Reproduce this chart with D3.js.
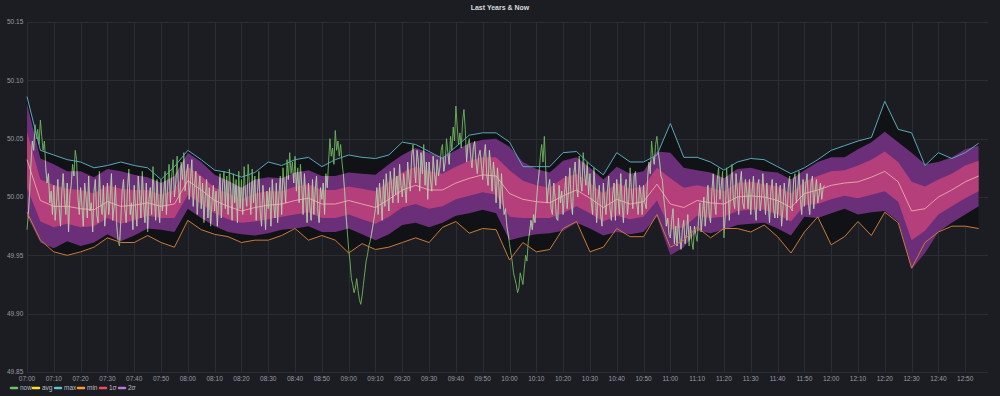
<!DOCTYPE html>
<html>
<head>
<meta charset="utf-8">
<style>
  html, body { margin: 0; padding: 0; background: #1b1d22; }
  svg { display: block; }
  text { font-family: "Liberation Sans", "DejaVu Sans", sans-serif; }
</style>
</head>
<body>
<svg id="chart" width="1000" height="396"></svg>
<script src="https://cdnjs.cloudflare.com/ajax/libs/d3/7.8.5/d3.min.js"></script>
<script>
// history stats, one point every 5 minutes from 07:00
const avgValues = [50.032, 49.997, 49.992, 49.992, 49.990, 49.989, 49.996, 49.992, 49.993, 49.995,
  49.992, 49.994, 50.014, 50.006, 49.997, 49.992, 49.988, 49.991, 49.993, 49.994,
  49.997, 49.999, 49.994, 49.994, 49.997, 49.994, 49.991, 49.998, 50.006, 50.010,
  50.006, 50.006, 50.012, 50.016, 50.019, 50.018, 50.003, 49.998, 49.996, 49.995,
  50.001, 50.006, 49.999, 49.991, 49.998, 49.994, 49.996, 50.011, 49.994, 49.991,
  49.997, 49.995, 49.994, 50.000, 50.001, 50.000, 49.997, 49.991, 50.003, 50.006,
  50.010, 50.012, 50.013, 50.017, 50.022, 50.013, 49.988, 49.990, 50.000, 50.006,
  50.013, 50.018];
const sdValues = [0.024, 0.018, 0.018, 0.015, 0.016, 0.014, 0.014, 0.015, 0.013, 0.011,
  0.010, 0.012, 0.012, 0.012, 0.011, 0.011, 0.010, 0.012, 0.012, 0.011,
  0.012, 0.012, 0.012, 0.012, 0.012, 0.013, 0.014, 0.015, 0.015, 0.016,
  0.016, 0.014, 0.014, 0.015, 0.015, 0.016, 0.020, 0.016, 0.014, 0.013,
  0.015, 0.014, 0.013, 0.012, 0.014, 0.013, 0.013, 0.014, 0.022, 0.017,
  0.013, 0.013, 0.011, 0.012, 0.012, 0.011, 0.012, 0.012, 0.010, 0.012,
  0.012, 0.011, 0.014, 0.015, 0.017, 0.017, 0.025, 0.019, 0.015, 0.014,
  0.014, 0.013];
const maxValues = [50.086, 50.040, 50.036, 50.032, 50.030, 50.025, 50.027, 50.030, 50.027, 50.025,
  50.015, 50.026, 50.040, 50.032, 50.023, 50.021, 50.017, 50.021, 50.030, 50.027,
  50.032, 50.034, 50.026, 50.032, 50.036, 50.034, 50.033, 50.036, 50.047, 50.045,
  50.039, 50.033, 50.043, 50.053, 50.055, 50.055, 50.047, 50.026, 50.026, 50.026,
  50.038, 50.039, 50.028, 50.019, 50.038, 50.030, 50.030, 50.036, 50.063, 50.034,
  50.034, 50.030, 50.023, 50.030, 50.033, 50.032, 50.026, 50.020, 50.025, 50.032,
  50.040, 50.044, 50.048, 50.051, 50.082, 50.058, 50.055, 50.027, 50.038, 50.033,
  50.038, 50.046];
const minValues = [49.987, 49.963, 49.953, 49.950, 49.953, 49.957, 49.965, 49.961, 49.961, 49.967,
  49.961, 49.957, 49.980, 49.972, 49.968, 49.966, 49.961, 49.963, 49.963, 49.967,
  49.973, 49.963, 49.967, 49.963, 49.952, 49.960, 49.955, 49.957, 49.961, 49.965,
  49.961, 49.974, 49.979, 49.969, 49.973, 49.972, 49.946, 49.961, 49.953, 49.955,
  49.973, 49.979, 49.953, 49.957, 49.973, 49.966, 49.966, 49.985, 49.957, 49.963,
  49.974, 49.965, 49.973, 49.973, 49.970, 49.976, 49.966, 49.952, 49.970, 49.983,
  49.959, 49.966, 49.979, 49.967, 49.987, 49.978, 49.939, 49.961, 49.970, 49.975,
  49.975, 49.973];

// today, one point every 30 seconds from 07:00
const nowValues = [
  49.972, 49.985, 50.005, 50.030, 50.048, 50.040, 50.062, 50.050, 50.058, 50.045, 50.066, 50.052, 50.040, 50.048, 50.025, 50.012, 50.020, 49.995, 50.005, 49.985,
  50.010, 49.980, 49.995, 50.015, 49.990, 49.975, 50.005, 50.020, 49.998, 49.985, 50.012, 49.970, 50.002, 50.010, 50.028, 50.018, 50.040, 50.032, 50.000, 49.985,
  50.008, 49.992, 49.975, 50.012, 50.000, 49.982, 50.018, 49.988, 49.995, 49.970, 50.005, 50.015, 49.985, 49.978, 50.022, 49.995, 49.985, 50.010, 49.975, 49.990,
  50.012, 49.985, 49.998, 50.020, 49.980, 49.992, 50.010, 49.975, 49.962, 49.958, 49.980, 50.005, 50.015, 49.990, 49.978, 50.008, 50.024, 49.985, 49.995, 49.972,
  50.010, 49.990, 49.975, 50.018, 50.002, 49.982, 50.022, 49.995, 49.978, 50.012, 49.970, 49.998, 50.008, 49.985, 50.026, 50.000, 49.980, 50.015, 49.992, 49.978,
  50.015, 49.988, 50.002, 50.022, 49.985, 50.010, 50.028, 49.995, 50.018, 50.032, 50.000, 50.012, 50.035, 50.008, 49.995, 50.030, 50.015, 50.038, 50.005, 50.020,
  50.028, 49.998, 50.015, 50.032, 49.992, 50.010, 50.022, 49.985, 50.005, 50.018, 49.990, 50.012, 49.978, 50.000, 50.015, 49.982, 50.008, 49.975, 49.995, 50.010,
  49.988, 50.005, 49.975, 49.998, 50.020, 49.982, 50.012, 50.022, 49.990, 50.018, 49.985, 50.024, 50.005, 49.980, 50.020, 49.995, 50.015, 49.978, 50.022, 49.990,
  50.015, 49.985, 50.026, 50.002, 49.992, 50.028, 50.010, 49.985, 50.024, 49.995, 50.018, 49.980, 50.005, 50.022, 49.988, 49.975, 50.010, 49.995, 49.972, 50.005,
  49.990, 50.008, 49.975, 50.015, 49.995, 49.982, 50.012, 49.978, 50.002, 50.018, 49.985, 50.025, 50.010, 49.995, 50.032, 50.015, 50.038, 50.020, 50.030, 50.012,
  50.035, 50.005, 50.025, 49.995, 50.028, 50.010, 49.985, 50.020, 50.000, 49.978, 50.012, 49.992, 49.980, 50.015, 49.985, 50.005, 50.018, 49.988, 49.978, 50.008,
  49.998, 50.012, 49.985, 50.020, 50.008, 50.030, 50.050, 50.035, 50.042, 50.028, 50.057, 50.040, 50.048, 50.035, 50.045, 50.030, 50.020, 50.005, 49.985, 49.970,
  49.955, 49.945, 49.930, 49.925, 49.918, 49.922, 49.930, 49.920, 49.912, 49.908, 49.915, 49.925, 49.935, 49.945, 49.950, 49.958, 49.962, 49.968, 49.975, 49.982,
  49.990, 50.008, 49.985, 50.012, 49.998, 49.980, 50.015, 49.992, 50.020, 50.005, 49.988, 50.022, 50.010, 49.995, 50.025, 50.002, 50.018, 49.995, 50.028, 50.010,
  50.000, 50.020, 50.008, 49.995, 50.030, 50.015, 50.005, 50.035, 50.045, 50.025, 50.012, 50.040, 50.030, 50.005, 50.038, 50.020, 50.045, 50.010, 50.030, 49.998,
  50.030, 50.015, 50.005, 50.035, 50.020, 50.010, 50.032, 50.018, 50.025, 50.040, 50.045, 50.022, 50.030, 50.050, 50.038, 50.028, 50.052, 50.040, 50.060, 50.048,
  50.078, 50.060, 50.045, 50.055, 50.042, 50.065, 50.075, 50.058, 50.030, 50.045, 50.050, 50.035, 50.025, 50.042, 50.048, 50.030, 50.020, 50.035, 50.040, 50.028,
  50.015, 50.035, 50.045, 50.020, 50.010, 50.040, 50.025, 50.005, 50.030, 50.018, 49.995, 50.025, 50.010, 49.990, 50.020, 49.998, 49.985, 49.990, 49.975, 49.968,
  49.960, 49.952, 49.945, 49.935, 49.930, 49.925, 49.918, 49.922, 49.935, 49.930, 49.925, 49.938, 49.950, 49.945, 49.962, 49.970, 49.980, 49.972, 49.985, 49.978,
  49.995, 50.010, 50.020, 50.035, 50.045, 50.030, 50.052, 50.025, 49.995, 50.008, 50.015, 49.990, 49.985, 50.012, 50.000, 49.982, 49.980, 50.010, 49.995, 50.005,
  49.985, 50.002, 50.018, 49.990, 50.005, 50.025, 49.995, 49.985, 50.020, 50.030, 50.008, 50.000, 50.035, 50.015, 50.005, 50.038, 50.020, 50.010, 50.030, 50.002,
  50.020, 49.995, 49.985, 50.025, 50.005, 49.978, 49.998, 50.010, 49.985, 49.975, 50.012, 49.995, 49.985, 50.005, 50.018, 49.990, 49.980, 50.002, 50.012, 49.980,
  50.015, 50.000, 49.985, 50.020, 49.995, 49.978, 50.008, 50.015, 49.985, 49.998, 50.025, 50.005, 49.990, 50.018, 50.022, 49.995, 49.985, 50.010, 50.002, 49.985,
  50.010, 49.995, 49.990, 50.015, 50.030, 50.020, 50.048, 50.035, 50.028, 50.045, 50.052, 50.038, 50.030, 50.018, 50.015, 50.000, 49.990, 49.975, 49.982, 49.968,
  49.965, 49.980, 49.990, 49.960, 49.975, 49.958, 49.982, 49.965, 49.955, 49.972, 49.980, 49.960, 49.968, 49.985, 49.958, 49.975, 49.962, 49.955, 49.975, 49.968,
  49.962, 49.980, 49.995, 49.970, 49.985, 50.000, 49.975, 49.990, 50.010, 49.985, 49.978, 50.005, 50.020, 49.995, 49.985, 50.015, 50.025, 49.998, 50.010, 50.022,
  49.965, 49.985, 50.025, 50.005, 49.980, 50.010, 50.028, 49.998, 49.990, 50.020, 50.005, 49.985, 50.012, 50.022, 49.995, 49.990, 50.015, 50.005, 49.990, 50.015,
  49.985, 50.005, 50.018, 49.992, 49.980, 50.010, 50.015, 49.988, 49.998, 50.020, 50.002, 49.985, 50.012, 49.995, 49.978, 50.005, 50.015, 49.990, 49.982, 50.012,
  49.982, 50.000, 50.010, 49.975, 49.990, 50.012, 49.998, 49.980, 50.008, 50.018, 49.990, 49.988, 50.015, 50.020, 49.995, 50.005, 50.022, 49.998, 49.985, 50.015,
  49.992, 50.010, 50.020, 49.995, 49.985, 50.012, 50.018, 49.990, 50.005, 50.015, 49.995, 50.002, 50.012, 49.998, 50.008, 50.010
];

const yTicks = [49.85, 49.90, 49.95, 50.00, 50.05, 50.10, 50.15];
const xTickLabels = ['07:00','07:10','07:20','07:30','07:40','07:50','08:00','08:10','08:20','08:30',
  '08:40','08:50','09:00','09:10','09:20','09:30','09:40','09:50','10:00','10:10','10:20','10:30',
  '10:40','10:50','11:00','11:10','11:20','11:30','11:40','11:50','12:00','12:10','12:20','12:30',
  '12:40','12:50'];
const legendNames = ['now', 'avg', 'max', 'min', '1σ', '2σ'];
const legendColors = ['#73bf69', '#fade2a', '#5fc2c9', '#ff9830', '#f2495c', '#b877d9'];

const svg = d3.select('#chart');
const day = '2020-01-01T';
const t = s => new Date(day + s + ':00');
const t0 = t('07:00');
const addSec = s => new Date(t0.getTime() + s * 1000);

const x = d3.scaleTime().domain([t0, addSec(358.5 * 60)]).range([27, 988]);
const y = d3.scaleLinear().domain([49.85, 50.15]).range([372, 22]);

svg.append('rect').attr('width', 1000).attr('height', 396).attr('fill', '#1b1d22');

svg.append('text')
  .attr('x', 500).attr('y', 10)
  .attr('text-anchor', 'middle')
  .attr('font-size', 7).attr('font-weight', 'bold')
  .attr('fill', '#d8d9da')
  .text('Last Years & Now');

// grid
const grid = svg.append('g').attr('stroke', '#2b2d33').attr('stroke-width', 1);
grid.selectAll('.h').data(yTicks).join('line')
  .attr('x1', 27).attr('x2', 988)
  .attr('y1', d => Math.round(y(d)) + 0.5).attr('y2', d => Math.round(y(d)) + 0.5);
grid.selectAll('.v').data(xTickLabels).join('line')
  .attr('y1', 22).attr('y2', 372)
  .attr('x1', d => Math.round(x(t(d))) + 0.5).attr('x2', d => Math.round(x(t(d))) + 0.5);

svg.append('g').selectAll('text').data(yTicks).join('text')
  .attr('x', 7).attr('y', d => y(d)).attr('dy', '0.35em')
  .attr('font-size', 6.5).attr('fill', '#9a9ca4')
  .text(d => d.toFixed(2));

svg.append('g').selectAll('text').data(xTickLabels).join('text')
  .attr('x', d => x(t(d))).attr('y', 379).attr('dy', '0.35em')
  .attr('text-anchor', 'middle')
  .attr('font-size', 6.5).attr('fill', '#9a9ca4')
  .text(d => d);

// stats rows
const stats = avgValues.map((a, i) => ({
  time: addSec(i * 300), avg: a, sd: sdValues[i], max: maxValues[i], min: minValues[i]
}));
const now = nowValues.map((v, i) => ({ time: addSec(i * 30), v }));

const band = (lo, hi) => d3.area().x(d => x(d.time)).y0(d => y(lo(d))).y1(d => y(hi(d)));
const area2 = band(d => d.avg - 2 * d.sd, d => d.avg + 2 * d.sd);

svg.append('path').datum(stats).attr('fill', '#111216')
  .attr('d', band(d => d.min, d => d.max));
svg.append('path').datum(stats).attr('fill', '#6b2f79').attr('d', area2);
svg.append('path').datum(stats).attr('fill', '#b53f7a')
  .attr('d', band(d => d.avg - d.sd, d => d.avg + d.sd));

svg.append('clipPath').attr('id', 'inband')
  .append('path').datum(stats).attr('d', area2);

const nowLine = d3.line().x(d => x(d.time)).y(d => y(d.v));
svg.append('path').datum(now).attr('fill', 'none')
  .attr('stroke', '#6fb55f').attr('stroke-width', 0.9).attr('d', nowLine);
svg.append('path').datum(now).attr('fill', 'none')
  .attr('clip-path', 'url(#inband)')
  .attr('stroke', '#e8c3dc').attr('stroke-opacity', 0.7).attr('stroke-width', 0.8).attr('d', nowLine);

const statLine = key => d3.line().x(d => x(d.time)).y(d => y(d[key]));
svg.append('path').datum(stats).attr('fill', 'none')
  .attr('stroke', '#f3c0b4').attr('stroke-opacity', 0.75).attr('d', statLine('avg'));
svg.append('path').datum(stats).attr('fill', 'none')
  .attr('stroke', '#58a9b8').attr('d', statLine('max'));
svg.append('path').datum(stats).attr('fill', 'none')
  .attr('stroke', '#c97a38').attr('d', statLine('min'));

// legend
const legendX = [11, 33, 55, 78, 100, 119];
const lg = svg.append('g').selectAll('g').data(legendNames).join('g')
  .attr('transform', (d, i) => `translate(${legendX[i]},388)`);
lg.append('line').attr('x1', 0).attr('x2', 6)
  .attr('stroke', (d, i) => legendColors[i]).attr('stroke-width', 2.5).attr('stroke-linecap', 'round');
lg.append('text').attr('x', 9).attr('dy', '0.35em')
  .attr('font-size', 6.5).attr('fill', '#b8bac0').text(d => d);
</script>
</body>
</html>
